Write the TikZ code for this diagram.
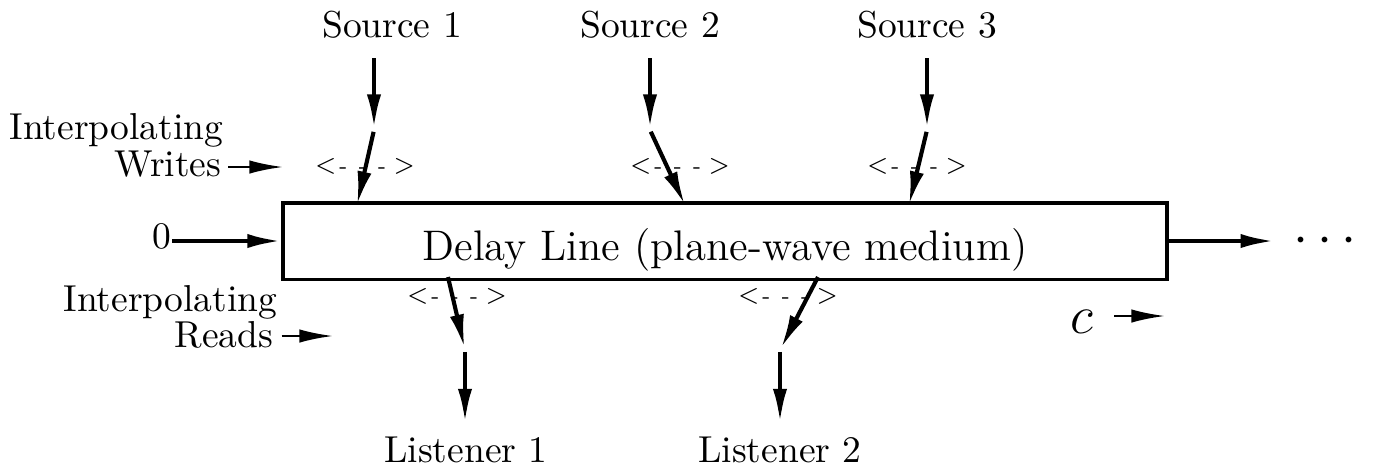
\documentclass[tikz,border=0pt]{standalone}
\usepackage{tikz}
\usetikzlibrary{arrows.meta}
\tikzstyle{sig} = [line width=1.1pt, -{Latex[length=9pt,width=3.8pt]}]
\tikzstyle{hint} = [line width=0.65pt, -{Latex[length=9pt,width=3.6pt]}]
\tikzstyle{txt} = [inner sep=0pt, font=\fontsize{10}{12}\selectfont]
\tikzstyle{slide} = [inner sep=0pt, font=\fontsize{6.5}{8}\selectfont]
\newcommand{\jitter}{<\hspace{0.6pt}{\tiny-}\hspace{2.8pt}{\tiny-}\hspace{2.8pt}{\tiny-}\hspace{1.8pt}>}

\begin{document}
\begin{tikzpicture}[x=0.2667pt, y=-0.2667pt]
\useasboundingbox (0,0) rectangle (1374,468);

        % the medium
        \node (delay) [draw, line width=1pt, minimum width=235.8pt, minimum height=19.2pt,
                       text height=12pt, text depth=1.8pt,
                       font=\fontsize{11.4}{13}\selectfont] at (725,241) {Delay Line (plane-wave medium)};

        % sources writing into the line
        \node (src1) [txt, anchor=base] at (392,37) {Source 1};
        \node (src2) [txt, anchor=base] at (650,37) {Source 2};
        \node (src3) [txt, anchor=base] at (927,37) {Source 3};
        \coordinate (s1k) at (374,130);
        \coordinate (s2k) at (650,130);
        \coordinate (s3k) at (927,130);
        \coordinate (s1e) at (357,205);
        \coordinate (s2e) at (685,205);
        \coordinate (s3e) at (909,205);
        \draw [sig, shorten <=5.3pt, shorten >=0.5pt] (src1.south -| s1k) -- (s1k);
        \draw [sig, shorten <=0.5pt] (s1k) -- (s1e);
        \draw [sig, shorten <=5.3pt, shorten >=0.5pt] (src2.south -| s2k) -- (s2k);
        \draw [sig, shorten <=0.5pt] (s2k) -- (s2e);
        \draw [sig, shorten <=5.3pt, shorten >=0.5pt] (src3.south -| s3k) -- (s3k);
        \draw [sig, shorten <=0.5pt] (s3k) -- (s3e);
        \node (w1) [slide] at (365,166) {\jitter};
        \node (w2) [slide] at (680,166) {\jitter};
        \node (w3) [slide] at (917,166) {\jitter};

        % listeners reading from the line
        \node (lis1) [txt, anchor=base] at (466,462) {Listener 1};
        \node (lis2) [txt, anchor=base] at (780,462) {Listener 2};
        \coordinate (r1s) at (448,277);
        \coordinate (r2s) at (818,277);
        \coordinate (r1k) at (465,350);
        \coordinate (r2k) at (780,350);
        \draw [sig, shorten >=0.5pt] (r1s) -- (r1k);
        \draw [sig, shorten <=0.5pt, shorten >=3.5pt] (r1k) -- (lis1.north -| r1k);
        \draw [sig, shorten >=0.5pt] (r2s) -- (r2k);
        \draw [sig, shorten <=0.5pt, shorten >=3.5pt] (r2k) -- (lis2.north -| r2k);
        \node (r1) [slide] at (457,296) {\jitter};
        \node (r2) [slide] at (788,296) {\jitter};

        % side labels
        \node (wint) [txt, anchor=base east] at (224,139) {Interpolating};
        \node (wwr) [txt, anchor=base east] at (222,176) {Writes};
        \coordinate (wend) at (283,167);
        \draw [hint, shorten <=1.6pt] (wwr.east |- wend) -- (wend);
        \node (rint) [txt, anchor=base east] at (278,311) {Interpolating};
        \node (rrd) [txt, anchor=base east] at (274,347) {Reads};
        \coordinate (rend) at (333,336);
        \draw [hint, shorten <=2pt] (rrd.east |- rend) -- (rend);

        % input and output
        \node (zero) [txt, anchor=base east] at (172,248) {0};
        \draw [sig] (zero.east |- delay.west) -- (delay.west);
        \node (dots) [txt, font=\fontsize{15.6}{18}\selectfont, anchor=west] at (1293,241) {$\cdots$};
        \draw [sig, shorten >=5pt] (delay.east) -- (dots.west);
        \node (cc) [txt, font=\Large, anchor=base] at (1082,333) {$c$};
        \coordinate (cend) at (1165,316);
        \draw [hint, shorten <=5.3pt] (cc.east |- cend) -- (cend);

\end{tikzpicture}
\end{document}
